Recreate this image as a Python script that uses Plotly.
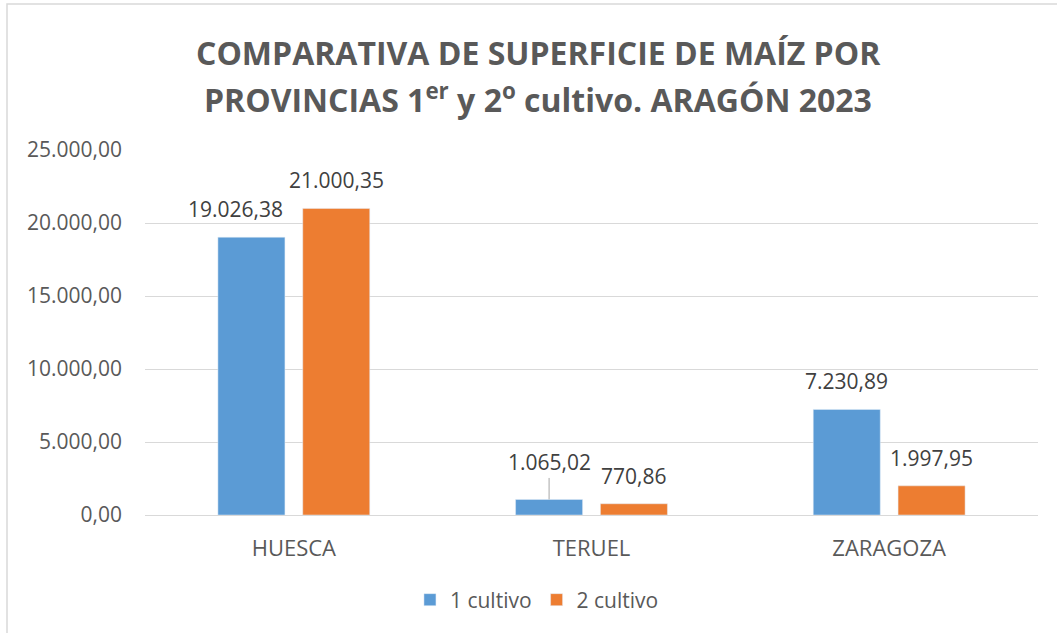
import plotly.graph_objects as go

categories = ["HUESCA", "TERUEL", "ZARAGOZA"]
cultivo1 = [19026.38, 1065.02, 7230.89]
cultivo2 = [21000.35, 770.86, 1997.95]
series_names = ["1 cultivo", "2 cultivo"]
tick_vals = [0, 5000, 10000, 15000, 20000, 25000]
title_lines = ["COMPARATIVA DE SUPERFICIE DE MAÍZ POR",
               "PROVINCIAS 1<sup>er</sup> y 2<sup>o</sup> cultivo. ARAGÓN 2023"]

BLUE = "#5B9BD5"
ORANGE = "#ED7D31"
FONT = "Open Sans"

def fmt(v):
    s = f"{v:,.2f}"
    return s.replace(",", "X").replace(".", ",").replace("X", ".")

BARGAP = 0.43
GROUPGAP = 0.21

fig = go.Figure()
fig.add_trace(go.Bar(x=categories, y=cultivo1, name=series_names[0], marker_color=BLUE))
fig.add_trace(go.Bar(x=categories, y=cultivo2, name=series_names[1], marker_color=ORANGE))

slot = (1 - BARGAP) / 2
offsets = [-slot / 2, slot / 2]
annotations = []
for si, vals in enumerate([cultivo1, cultivo2]):
    for ci, v in enumerate(vals):
        x = ci + offsets[si]
        if categories[ci] == "TERUEL" and si == 0:
            annotations.append(dict(x=x, y=v, xref="x", yref="y", text=fmt(v),
                                    showarrow=True, arrowhead=0, arrowwidth=1,
                                    arrowcolor="#A6A6A6", ax=0, ay=-37,
                                    font=dict(family=FONT, size=21, color="#404040")))
        else:
            xs = -16 if (categories[ci] == "HUESCA" and si == 0) else 0
            annotations.append(dict(x=x, y=v, xref="x", yref="y", text=fmt(v),
                                    showarrow=False, yanchor="bottom", yshift=12,
                                    xshift=xs,
                                    font=dict(family=FONT, size=21, color="#404040")))

# title, two lines
for line, py in zip(title_lines, [52, 98]):
    annotations.append(dict(text=line, xref="paper", yref="paper",
                            x=(538 - 145) / 893, y=(515 - py) / 365,
                            xanchor="center", yanchor="middle", showarrow=False,
                            font=dict(family=FONT, size=32, color="#595959", weight="bold")))

fig.update_layout(
    width=1057, height=633,
    paper_bgcolor="white", plot_bgcolor="white",
    separators=",.",
    barmode="group", bargap=BARGAP, bargroupgap=GROUPGAP,
    margin=dict(l=145, r=19, t=150, b=118),
    yaxis=dict(range=[0, 25000], tickvals=tick_vals, tickformat=",.2f",
               showgrid=True, gridcolor="#D9D9D9", gridwidth=1,
               zeroline=False, showline=False, ticks="", ticklabelstandoff=22,
               tickfont=dict(family=FONT, size=21, color="#595959")),
    xaxis=dict(showline=True, linecolor="#D9D9D9", linewidth=1, ticks="",
               ticklabelstandoff=14,
               tickfont=dict(family=FONT, size=22, color="#595959")),
    legend=dict(orientation="h", x=0.508, xanchor="center", xref="container",
                y=33 / 633, yanchor="middle", yref="container",
                font=dict(family=FONT, size=21, color="#595959"),
                itemwidth=30, traceorder="normal"),
    annotations=annotations,
    shapes=[dict(type="rect", xref="paper", yref="paper",
                 x0=(7 - 145) / 893, x1=1.2, y0=-0.6, y1=(515 - 4) / 365,
                 line=dict(color="#D9D9D9", width=1.5), layer="below")],
    showlegend=True,
)

fig.write_html("out.html", config={"displayModeBar": False},
               post_script="document.body.style.margin='0';")
